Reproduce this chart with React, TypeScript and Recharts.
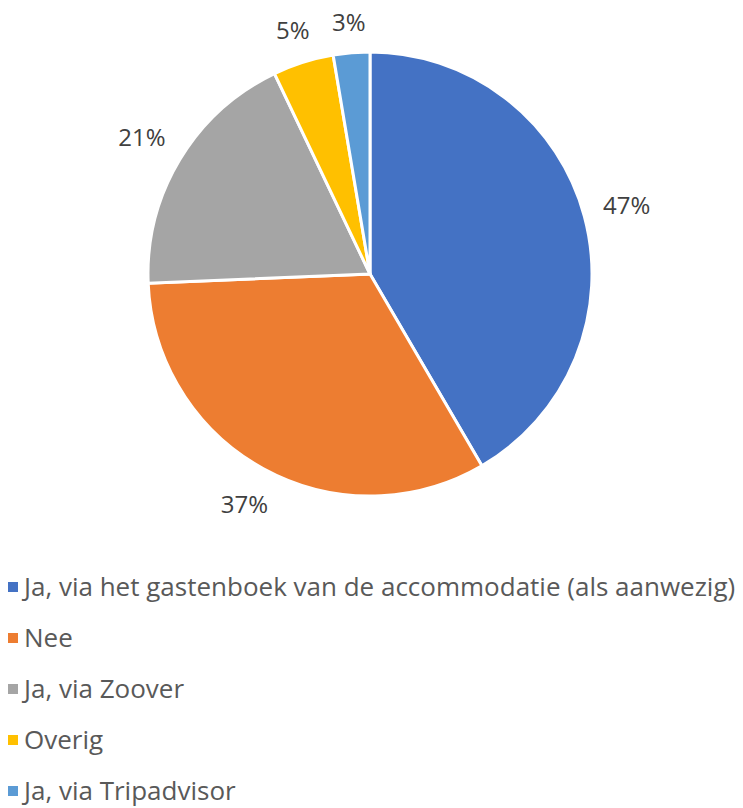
import React from 'react';
import { PieChart, Pie, Cell, Legend } from 'recharts';

const categories = [
    'Ja, via het gastenboek van de accommodatie (als aanwezig)',
    'Nee',
    'Ja, via Zoover',
    'Overig',
    'Ja, via Tripadvisor',
];
const percentages = [47, 37, 21, 5, 3];
const colors = ['#4472C4', '#ED7D31', '#A5A5A5', '#FFC000', '#5B9BD5'];

const data = categories.map((name, i) => ({ name, value: percentages[i] }));

const RAD = Math.PI / 180;
const FONT = '"Open Sans", sans-serif';
const LABEL_SIZE = 24;

// outside-end label: keep a fixed gap between the slice edge and the text box
const renderLabel = (props: any) => {
    const { cx, cy, midAngle, outerRadius, value } = props;
    const dx = Math.cos(-midAngle * RAD);
    const dy = Math.sin(-midAngle * RAD);
    const halfW = ((String(value).length * 0.57 + 0.82) * LABEL_SIZE) / 2;
    const halfH = 12;
    const r = outerRadius + 18 + Math.abs(dx) * halfW + Math.abs(dy) * halfH;
    return (
        <text
            x={cx + r * dx}
            y={cy + r * dy}
            fill="#404040"
            fontSize={LABEL_SIZE}
            fontFamily={FONT}
            textAnchor="middle"
            dominantBaseline="central"
        >
            {value}%
        </text>
    );
};

const renderLegend = () => (
    <div style={{ fontFamily: FONT }}>
        {categories.map((name, i) => (
            <div key={name} style={{ display: 'flex', alignItems: 'center', height: 51 }}>
                <span style={{ width: 10, height: 10, background: colors[i], marginLeft: 8, marginRight: 6 }} />
                <span style={{ fontSize: 26, color: '#595959', lineHeight: '51px' }}>{name}</span>
            </div>
        ))}
    </div>
);

export default function App() {
    return (
        <div style={{ position: 'absolute', left: 0, top: 0 }}>
            <PieChart width={743} height={808} margin={{ top: 0, right: 0, bottom: 0, left: 0 }}>
                <Pie
                    data={data}
                    dataKey="value"
                    nameKey="name"
                    cx={370}
                    cy={274}
                    outerRadius={222}
                    startAngle={90}
                    endAngle={-270}
                    stroke="#FFFFFF"
                    strokeWidth={3}
                    label={renderLabel}
                    labelLine={false}
                    isAnimationActive={false}
                >
                    {data.map((d, i) => (
                        <Cell key={d.name} fill={colors[i]} />
                    ))}
                </Pie>
                <Legend content={renderLegend} wrapperStyle={{ top: 561, left: 0, width: 743 }} />
            </PieChart>
        </div>
    );
}
